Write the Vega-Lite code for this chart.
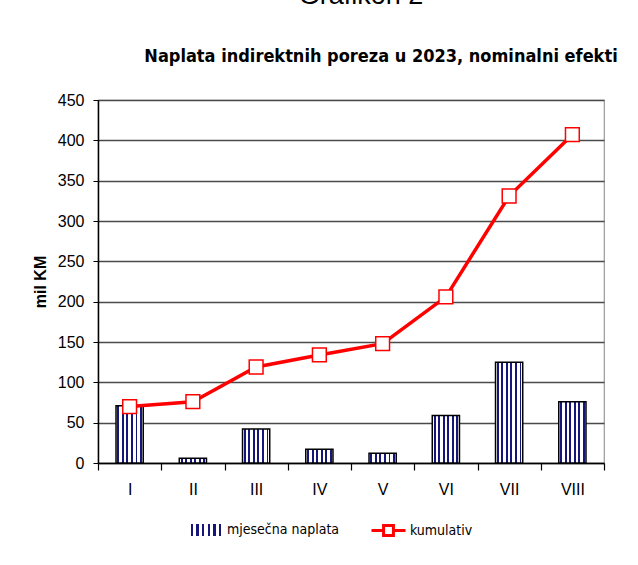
{
  "$schema": "https://vega.github.io/schema/vega-lite/v6.json",
  "width": 506,
  "height": 363,
  "autosize": {"type": "none"},
  "padding": {"left": 98, "top": 100, "right": 34, "bottom": 102},
  "background": "white",
  "title": {
    "text": "Grafikon 2\u2800\u2800",
    "subtitle": "Naplata indirektnih poreza u 2023, nominalni efekti",
    "anchor": "middle",
    "frame": "group",
    "dx": 30,
    "offset": 25,
    "font": "Liberation Sans",
    "fontSize": 27,
    "fontWeight": "normal",
    "color": "black",
    "subtitleFont": "DejaVu Sans Condensed",
    "subtitleFontSize": 18,
    "subtitleFontWeight": "bold",
    "subtitleColor": "black",
    "subtitlePadding": 38
  },
  "data": {
    "values": [
      {"m": "I", "mj": 71, "kum": 70},
      {"m": "II", "mj": 6, "kum": 76},
      {"m": "III", "mj": 42, "kum": 119},
      {"m": "IV", "mj": 17, "kum": 134},
      {"m": "V", "mj": 12, "kum": 148},
      {"m": "VI", "mj": 59, "kum": 206},
      {"m": "VII", "mj": 125, "kum": 331},
      {"m": "VIII", "mj": 76, "kum": 407}
    ]
  },
  "encoding": {
    "x": {
      "field": "m",
      "type": "ordinal",
      "sort": null,
      "scale": {"paddingInner": 0, "paddingOuter": 0},
      "axis": {
        "title": null,
        "labelAngle": 0,
        "labelFont": "Liberation Sans",
        "labelFontSize": 16,
        "labelColor": "black",
        "labelPadding": 11,
        "tickBand": "extent",
        "tickSize": 7,
        "tickColor": "black",
        "tickWidth": 1.2,
        "domainColor": "black",
        "domainWidth": 1.5,
        "grid": false
      }
    }
  },
  "layer": [
    {
      "mark": {
        "type": "bar",
        "width": {"band": 0.43},
        "stroke": "black",
        "strokeWidth": 1.5,
        "fill": {
          "gradient": "linear",
          "x1": 0, "y1": 0, "x2": 1, "y2": 0,
          "stops": [
            {"offset": 0, "color": "white"},
            {"offset": 0.05, "color": "white"},
            {"offset": 0.05, "color": "#15157a"},
            {"offset": 0.12, "color": "#15157a"},
            {"offset": 0.12, "color": "white"},
            {"offset": 0.2167, "color": "white"},
            {"offset": 0.2167, "color": "#15157a"},
            {"offset": 0.2867, "color": "#15157a"},
            {"offset": 0.2867, "color": "white"},
            {"offset": 0.3833, "color": "white"},
            {"offset": 0.3833, "color": "#15157a"},
            {"offset": 0.4533, "color": "#15157a"},
            {"offset": 0.4533, "color": "white"},
            {"offset": 0.55, "color": "white"},
            {"offset": 0.55, "color": "#15157a"},
            {"offset": 0.62, "color": "#15157a"},
            {"offset": 0.62, "color": "white"},
            {"offset": 0.7167, "color": "white"},
            {"offset": 0.7167, "color": "#15157a"},
            {"offset": 0.7867, "color": "#15157a"},
            {"offset": 0.7867, "color": "white"},
            {"offset": 0.8833, "color": "white"},
            {"offset": 0.8833, "color": "#15157a"},
            {"offset": 0.9533, "color": "#15157a"},
            {"offset": 0.9533, "color": "white"},
            {"offset": 1, "color": "white"}
          ]
        }
      },
      "encoding": {
        "y": {
          "field": "mj",
          "type": "quantitative",
          "scale": {"domain": [0, 450], "nice": false},
          "axis": {
            "title": "mil KM",
            "titleFont": "Liberation Sans",
            "titleFontSize": 16,
            "titleFontWeight": "bold",
            "titleColor": "black",
            "titlePadding": 9,
            "values": [0, 50, 100, 150, 200, 250, 300, 350, 400, 450],
            "labelFont": "Liberation Sans",
            "labelFontSize": 16,
            "labelColor": "black",
            "labelPadding": 9,
            "tickSize": 5,
            "tickColor": "black",
            "domainColor": "black",
            "domainWidth": 1.5,
            "gridColor": "#4a4a4a",
            "gridWidth": 1.3
          }
        },
        "opacity": {
          "datum": "mjesečna naplata",
          "type": "nominal",
          "scale": {"range": [1]},
          "legend": {
            "orient": "none",
            "legendX": 90,
            "legendY": 412,
            "title": null,
            "symbolType": "M-1,-0.35H1V0.35H-1Z",
            "symbolSize": 1156,
            "symbolStrokeColor": "black",
            "symbolStrokeWidth": 1.5,
            "symbolFillColor": "#5a5aa0",
            "labelFont": "DejaVu Sans Condensed",
            "labelFontSize": 14,
            "labelColor": "black",
            "labelOffset": 3
          }
        }
      }
    },
    {
      "mark": {
        "type": "line",
        "strokeWidth": 3.5,
        "point": {"shape": "square", "size": 190, "filled": true, "fill": "white", "stroke": "#ff0000", "strokeWidth": 1.5}
      },
      "encoding": {
        "y": {
          "field": "kum",
          "type": "quantitative"
        },
        "stroke": {
          "datum": "kumulativ",
          "type": "nominal",
          "scale": {"range": ["#ff0000"]},
          "legend": {
            "orient": "none",
            "legendX": 272,
            "legendY": 412,
            "title": null,
            "symbolType": "M-1,0H-0.29M0.29,0H1M-0.29,-0.29H0.29V0.29H-0.29Z",
            "symbolSize": 1156,
            "symbolStrokeWidth": 3,
            "symbolFillColor": "white",
            "labelFont": "DejaVu Sans Condensed",
            "labelFontSize": 14,
            "labelColor": "black",
            "labelOffset": 3
          }
        }
      }
    }
  ],
  "config": {
    "view": {"stroke": "#9a9a9a", "strokeWidth": 1.2}
  }
}
